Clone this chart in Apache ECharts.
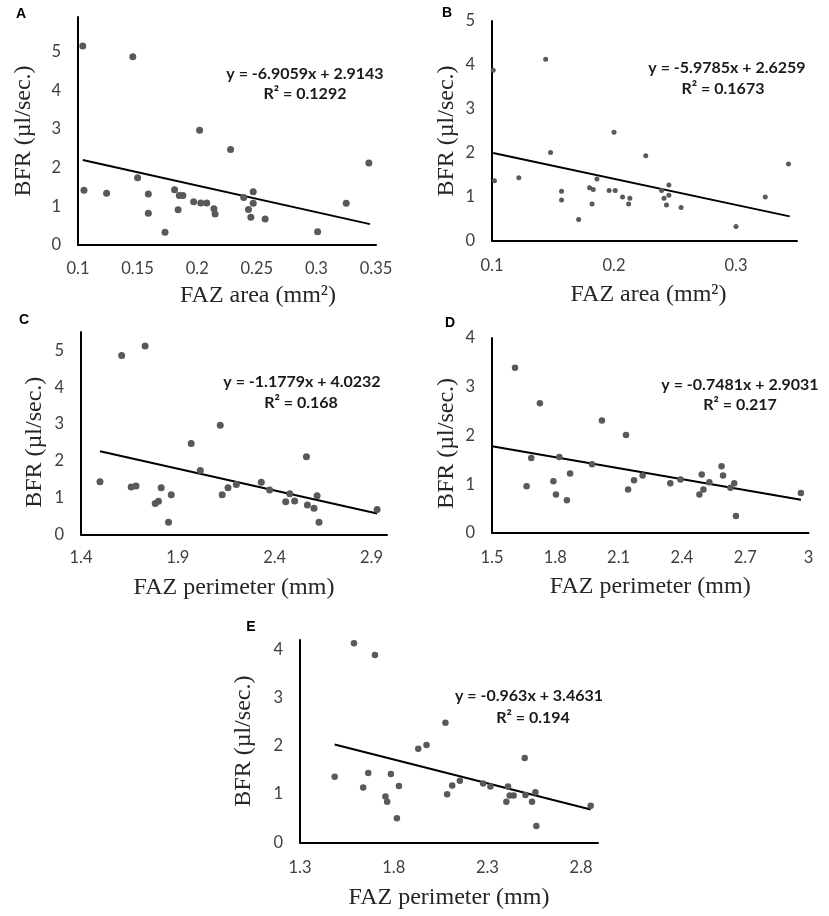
<!DOCTYPE html>
<html>
<head>
<meta charset="utf-8">
<title>BFR vs FAZ</title>
<script src="https://cdn.jsdelivr.net/npm/echarts@6.0.0/dist/echarts.min.js"></script>
<style>
  html, body { margin: 0; padding: 0; background: #fff; }
  #box { width: 829px; height: 916px; }
</style>
</head>
<body>
<div id="box"></div>
<script>
// 数据：点 (x, BFR)
var aX = [0.104, 0.146, 0.202, 0.228, 0.344, 0.150, 0.105, 0.124, 0.159, 0.181, 0.185, 0.188, 0.197, 0.203, 0.208, 0.214, 0.215, 0.159, 0.184, 0.173, 0.239, 0.247, 0.247, 0.243, 0.245, 0.257, 0.301, 0.325];
var aY = [5.15, 4.87, 2.97, 2.47, 2.12, 1.74, 1.42, 1.34, 1.32, 1.43, 1.28, 1.28, 1.12, 1.09, 1.09, 0.94, 0.80, 0.82, 0.91, 0.33, 1.23, 1.38, 1.08, 0.92, 0.72, 0.67, 0.34, 1.08];

var bX = [0.101, 0.144, 0.200, 0.226, 0.343, 0.148, 0.102, 0.122, 0.157, 0.157, 0.180, 0.183, 0.186, 0.182, 0.171, 0.196, 0.201, 0.207, 0.212, 0.213, 0.239, 0.241, 0.243, 0.245, 0.245, 0.255, 0.300, 0.324];
var bY = [3.88, 4.13, 2.47, 1.94, 1.75, 2.01, 1.37, 1.44, 1.13, 0.93, 1.21, 1.17, 1.41, 0.84, 0.49, 1.15, 1.15, 1.00, 0.84, 0.97, 1.15, 0.97, 0.82, 1.04, 1.27, 0.76, 0.33, 1.00];

var cX = [1.498, 1.610, 1.731, 1.659, 1.684, 1.783, 1.800, 1.814, 1.866, 1.852, 1.969, 2.016, 2.119, 2.129, 2.159, 2.202, 2.331, 2.374, 2.457, 2.478, 2.503, 2.564, 2.569, 2.603, 2.619, 2.629, 2.929];
var cY = [1.43, 4.86, 5.12, 1.29, 1.32, 0.84, 0.90, 1.27, 1.08, 0.33, 2.47, 1.74, 2.97, 1.08, 1.27, 1.36, 1.42, 1.21, 0.89, 1.11, 0.91, 2.11, 0.80, 0.71, 1.05, 0.33, 0.68];

var dX = [1.609, 1.727, 2.021, 2.135, 1.686, 1.664, 1.791, 1.803, 1.819, 1.855, 1.870, 1.974, 2.145, 2.173, 2.214, 2.345, 2.393, 2.483, 2.494, 2.502, 2.530, 2.588, 2.595, 2.630, 2.648, 2.656, 2.964];
var dY = [3.39, 2.66, 2.31, 2.01, 1.54, 0.96, 1.06, 0.79, 1.56, 0.67, 1.22, 1.41, 0.89, 1.08, 1.18, 1.02, 1.10, 0.79, 1.20, 0.89, 1.04, 1.37, 1.18, 0.93, 1.02, 0.35, 0.82];

var eX = [1.588, 1.700, 2.076, 1.931, 1.975, 2.499, 1.485, 1.664, 1.637, 1.785, 1.828, 1.756, 1.765, 1.817, 2.085, 2.112, 2.153, 2.277, 2.316, 2.410, 2.419, 2.440, 2.401, 2.503, 2.556, 2.538, 2.561, 2.851];
var eY = [4.13, 3.89, 2.48, 1.94, 2.02, 1.75, 1.36, 1.44, 1.14, 1.42, 1.17, 0.95, 0.84, 0.50, 1.00, 1.18, 1.28, 1.22, 1.16, 1.16, 0.97, 0.97, 0.84, 0.98, 1.04, 0.84, 0.34, 0.76];

// 趋势线两端
var aTrendX = [0.104, 0.345], aTrendY = [2.2, 0.54];
var bTrendX = [0.101, 0.344], bTrendY = [2.0, 0.56];
var cTrendX = [1.498, 2.929], cTrendY = [2.26, 0.57];
var dTrendX = [1.5, 2.964], dTrendY = [1.78, 0.68];
var eTrendX = [1.485, 2.851], eTrendY = [2.03, 0.68];

var letters = ["A", "B", "C", "D", "E"];
var equations = ["y = -6.9059x + 2.9143", "y = -5.9785x + 2.6259", "y = -1.1779x + 4.0232", "y = -0.7481x + 2.9031", "y = -0.963x + 3.4631"];
var rSquared = ["R² = 0.1292", "R² = 0.1673", "R² = 0.168", "R² = 0.217", "R² = 0.194"];
var xTitles = ["FAZ area (mm²)", "FAZ area (mm²)", "FAZ perimeter (mm)", "FAZ perimeter (mm)", "FAZ perimeter (mm)"];
var yTitle = "BFR (µl/sec.)";

// 每个小图的布局
var panels = [
  { x: aX, y: aY, tx: aTrendX, ty: aTrendY, grid: { left: 78, top: 17, width: 298, height: 228 },
    xmin: 0.1, xmax: 0.35, xstep: 0.05, ymax: 5.9, dot: 7, yLabGap: 17, xLabGap: 15, yNameGap: 42, xNameGap: 39, xPad: [0, 0, 0, 62], yPad: 0,
    letter: [21, 14], eq: [305, 74, 305, 94] },
  { x: bX, y: bY, tx: bTrendX, ty: bTrendY, grid: { left: 492, top: 21, width: 305, height: 220 },
    xmin: 0.1, xmax: 0.35, xstep: 0.1, ymax: 5, dot: 5, yLabGap: 17, xLabGap: 16, yNameGap: 33, xNameGap: 42, xPad: [0, 0, 0, 8], yPad: 0,
    letter: [447, 13], eq: [727, 68, 723, 89] },
  { x: cX, y: cY, tx: cTrendX, ty: cTrendY, grid: { left: 81, top: 332, width: 306, height: 202.5 },
    xmin: 1.4, xmax: 2.98, xstep: 0.5, ymax: 5.5, dot: 7, yLabGap: 17, xLabGap: 15, yNameGap: 34, xNameGap: 41, xPad: 0, yPad: [0, 18, 0, 0],
    letter: [24, 320], eq: [302, 382, 301, 403] },
  { x: dX, y: dY, tx: dTrendX, ty: dTrendY, grid: { left: 492, top: 338, width: 316.5, height: 195 },
    xmin: 1.5, xmax: 3, xstep: 0.3, ymax: 4, dot: 6.5, yLabGap: 17, xLabGap: 16, yNameGap: 33, xNameGap: 42, xPad: 0, yPad: [0, 16, 0, 0],
    letter: [450, 323], eq: [740, 385, 740, 405] },
  { x: eX, y: eY, tx: eTrendX, ty: eTrendY, grid: { left: 300, top: 640, width: 298, height: 202.3 },
    xmin: 1.3, xmax: 2.89, xstep: 0.5, ymax: 4.2, dot: 6.5, yLabGap: 17, xLabGap: 16.5, yNameGap: 44, xNameGap: 43, xPad: 0, yPad: 0,
    letter: [251, 627], eq: [529, 696, 533, 718] }
];

function zip(xs, ys) {
  return xs.map(function (v, i) { return [v, ys[i]]; });
}
function onStep(v, min, step) {
  var k = (v - min) / step;
  return Math.abs(k - Math.round(k)) < 1e-6;
}

var myChart = echarts.init(document.getElementById("box"));

var grids = [], xAxes = [], yAxes = [], series = [], graphics = [];
var axisLine = { show: true, onZero: false, lineStyle: { color: "#000", width: 2 } };
var tickFont = { color: "#404040", fontFamily: "Lato", fontSize: 16.5 };
var titleFont = { fontFamily: "Liberation Serif", fontSize: 24, color: "#262626" };

panels.forEach(function (p, i) {
  grids.push(Object.assign({ outerBoundsMode: "none", containLabel: false }, p.grid));

  xAxes.push({
    gridIndex: i, type: "value", min: p.xmin, max: p.xmax, interval: p.xstep,
    axisLine: axisLine, axisTick: { show: false }, splitLine: { show: false },
    axisLabel: Object.assign({ margin: p.xLabGap, showMaxLabel: onStep(p.xmax, p.xmin, p.xstep) }, tickFont),
    name: xTitles[i], nameLocation: "middle", nameGap: p.xNameGap, nameMoveOverlap: false,
    nameTextStyle: Object.assign({ padding: p.xPad }, titleFont)
  });

  yAxes.push({
    gridIndex: i, type: "value", min: 0, max: p.ymax, interval: 1,
    axisLine: axisLine, axisTick: { show: false }, splitLine: { show: false },
    axisLabel: Object.assign({ margin: p.yLabGap, showMaxLabel: onStep(p.ymax, 0, 1) }, tickFont),
    name: yTitle, nameLocation: "middle", nameGap: p.yNameGap, nameMoveOverlap: false,
    nameTextStyle: Object.assign({ padding: p.yPad }, titleFont)
  });

  // 散点
  series.push({
    type: "scatter", xAxisIndex: i, yAxisIndex: i,
    data: zip(p.x, p.y), symbolSize: p.dot,
    itemStyle: { color: "#595959", opacity: 1 }, z: 3
  });
  // 线性趋势线
  series.push({
    type: "line", xAxisIndex: i, yAxisIndex: i,
    data: zip(p.tx, p.ty), symbol: "none", silent: true,
    lineStyle: { color: "#000", width: 2 }, z: 2
  });

  graphics.push({
    type: "text", x: p.letter[0], y: p.letter[1],
    style: { text: letters[i], font: 'bold 14px "Liberation Sans"', fill: "#000", align: "center", verticalAlign: "middle" }
  });
  graphics.push({
    type: "text", x: p.eq[0], y: p.eq[1],
    style: { text: equations[i], font: "bold 16px Lato", fill: "#1a1a1a", align: "center", verticalAlign: "middle" }
  });
  graphics.push({
    type: "text", x: p.eq[2], y: p.eq[3],
    style: { text: rSquared[i], font: "bold 16px Lato", fill: "#1a1a1a", align: "center", verticalAlign: "middle" }
  });
});

myChart.setOption({
  animation: false,
  backgroundColor: "#fff",
  grid: grids,
  xAxis: xAxes,
  yAxis: yAxes,
  series: series,
  graphic: graphics
});
</script>
</body>
</html>
